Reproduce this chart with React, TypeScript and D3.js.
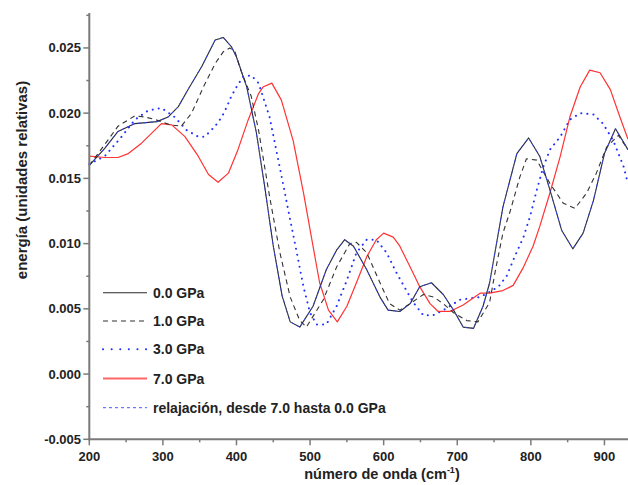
import React from "react";
import * as d3 from "d3";

const W = 628;
const H = 485;

// 0.0 GPa
const wn0 = [200, 221, 239, 262, 292, 307, 321, 334, 353, 371, 382, 393, 400, 414, 427, 438, 450, 462, 473, 486, 504, 522, 536, 547, 559, 577, 595, 606, 622, 636, 649, 665, 681, 695, 708, 722, 735, 744, 762, 781, 797, 812, 826, 842, 857, 871, 885, 900, 915, 932];
const en0 = [0.016, 0.0173, 0.0186, 0.0192, 0.01935, 0.0197, 0.0205, 0.0218, 0.0236, 0.0256, 0.0258, 0.0251, 0.0243, 0.022, 0.0185, 0.0145, 0.0098, 0.006, 0.004, 0.0036, 0.0052, 0.008, 0.0095, 0.0103, 0.0098, 0.008, 0.0059, 0.0049, 0.0048, 0.0054, 0.0067, 0.007, 0.0061, 0.0049, 0.0036, 0.0035, 0.0052, 0.007, 0.0128, 0.0169, 0.0181, 0.0167, 0.0141, 0.011, 0.0096, 0.0108, 0.0133, 0.0169, 0.0188, 0.0172];

// 1.0 GPa
const wn1 = [200, 221, 239, 262, 276, 290, 310, 325, 339, 355, 371, 382, 391, 398, 407, 420, 430, 445, 459, 473, 486, 495, 518, 536, 554, 563, 577, 595, 608, 622, 636, 654, 668, 681, 695, 713, 728, 744, 752, 762, 772, 785, 794, 808, 826, 844, 860, 876, 889, 903, 919, 932];
const en1 = [0.016, 0.0176, 0.019, 0.0198, 0.0197, 0.0195, 0.0191, 0.019, 0.02, 0.022, 0.0238, 0.0247, 0.025, 0.0247, 0.0231, 0.0213, 0.0187, 0.0136, 0.0093, 0.0059, 0.0041, 0.0036, 0.0057, 0.0082, 0.01, 0.0101, 0.0093, 0.007, 0.0054, 0.0049, 0.0054, 0.0061, 0.0059, 0.0054, 0.0047, 0.0041, 0.004, 0.0055, 0.008, 0.0108, 0.0125, 0.0151, 0.0165, 0.0164, 0.0146, 0.0131, 0.0127, 0.0139, 0.0154, 0.0174, 0.0183, 0.0172];

// 3.0 GPa
const wn3 = [200, 221, 244, 262, 280, 298, 316, 332, 348, 357, 371, 380, 387, 393, 400, 409, 420, 430, 445, 455, 464, 473, 482, 491, 500, 509, 522, 536, 550, 563, 577, 590, 604, 618, 631, 640, 654, 667, 681, 704, 717, 731, 744, 756, 767, 778, 790, 799, 808, 817, 826, 840, 853, 867, 885, 898, 912, 926, 932];
const en3 = [0.0161, 0.0167, 0.0182, 0.0195, 0.0202, 0.0204, 0.0197, 0.0187, 0.0182, 0.0182, 0.019, 0.0197, 0.0205, 0.0213, 0.022, 0.0228, 0.0229, 0.0223, 0.0197, 0.0169, 0.0144, 0.0118, 0.0093, 0.0067, 0.0047, 0.0038, 0.0038, 0.0052, 0.0072, 0.0093, 0.0103, 0.0103, 0.0093, 0.0077, 0.0064, 0.0055, 0.0045, 0.0045, 0.0049, 0.0057, 0.0058, 0.0059, 0.0063, 0.0067, 0.0075, 0.009, 0.0105, 0.0121, 0.0141, 0.0159, 0.0172, 0.0182, 0.0195, 0.02, 0.0199, 0.0192, 0.0179, 0.0159, 0.0146];

// 7.0 GPa
const wn7 = [200, 221, 239, 253, 271, 298, 312, 330, 348, 362, 375, 389, 402, 416, 430, 436, 448, 461, 477, 491, 504, 513, 525, 537, 550, 563, 577, 590, 600, 613, 622, 636, 649, 663, 674, 690, 708, 731, 744, 762, 776, 790, 803, 812, 826, 840, 853, 867, 880, 894, 908, 921, 932];
const en7 = [0.0167, 0.0166, 0.0166, 0.0169, 0.0177, 0.0192, 0.0191, 0.0182, 0.0167, 0.0153, 0.0147, 0.0154, 0.0172, 0.0195, 0.0215, 0.022, 0.0223, 0.021, 0.0179, 0.0139, 0.0098, 0.007, 0.0049, 0.004, 0.0052, 0.007, 0.009, 0.0103, 0.0108, 0.0105, 0.0098, 0.0082, 0.0067, 0.0054, 0.0048, 0.0048, 0.0053, 0.0062, 0.0062, 0.0064, 0.0068, 0.0082, 0.0098, 0.0113, 0.0139, 0.0167, 0.0197, 0.022, 0.0233, 0.0231, 0.0218, 0.0197, 0.018];

// relajación (overlaps 0.0 GPa)
const wnR = wn0;
const enR = [0.016, 0.0173, 0.0186, 0.0192, 0.01935, 0.0197, 0.0205, 0.0218, 0.0236, 0.0256, 0.0258, 0.0251, 0.0243, 0.022, 0.0185, 0.0145, 0.0098, 0.006, 0.004, 0.0036, 0.0052, 0.008, 0.0095, 0.0103, 0.0098, 0.008, 0.0059, 0.0049, 0.0048, 0.0054, 0.0067, 0.007, 0.0061, 0.0049, 0.0036, 0.0035, 0.0052, 0.007, 0.0128, 0.0169, 0.0181, 0.0167, 0.0141, 0.011, 0.0096, 0.0108, 0.0133, 0.0169, 0.0188, 0.0172];

const seriesLabels = ["0.0 GPa", "1.0 GPa", "3.0 GPa", "7.0 GPa", "relajación, desde 7.0 hasta 0.0 GPa"];
const xTicks = [200, 300, 400, 500, 600, 700, 800, 900];
const xMinor = [250, 350, 450, 550, 650, 750, 850];
const yTicks = [-0.005, 0, 0.005, 0.01, 0.015, 0.02, 0.025];
const yMinor = [-0.0025, 0.0025, 0.0075, 0.0125, 0.0175, 0.0225, 0.0275];

const FONT = "'Liberation Sans', Arial, sans-serif";

export default function App() {
  const x = d3.scaleLinear().domain([200, 932]).range([89.3, 628]);
  const y = d3.scaleLinear().domain([-0.005, 0.0276]).range([439.3, 14]);
  const x0 = x.range()[0];
  const y0 = y.range()[0];

  const mk = (wn: number[], en: number[]) =>
    d3.line<number>().x((_, i) => x(wn[i])).y((d) => y(d))(en) || "";

  const styles = [
    { stroke: "#2a2a2a", width: 1.1, dash: undefined as string | undefined, cap: "butt" },
    { stroke: "#333", width: 1.1, dash: "5,4", cap: "butt" },
    { stroke: "#2233ff", width: 2, dash: "0.1,6", cap: "round" },
    { stroke: "#ff3333", width: 1.2, dash: undefined, cap: "butt" },
    { stroke: "#3344ff", width: 0.9, dash: "3,3", cap: "butt" },
  ];
  const paths = [mk(wn3, en3), mk(wn7, en7), mk(wn1, en1), mk(wn0, en0), mk(wnR, enR)];
  const order = [2, 3, 1, 0, 4];

  const legendY = [292.7, 321, 349.3, 378.5, 407.7];
  const legendStyles = [
    { ...styles[0] },
    { ...styles[1] },
    { ...styles[2], dash: "0.1,8.5" },
    { ...styles[3], width: 2.2, stroke: "#ff6666" },
    { ...styles[4] },
  ];

  return (
    <svg width={W} height={H} style={{ position: "absolute", left: 0, top: 0, background: "#fff" }} fontFamily={FONT}>
      <rect width={W} height={H} fill="#fff" />
      {paths.map((p, k) => {
        const s = styles[order[k]];
        return (
          <path key={k} d={p} fill="none" stroke={s.stroke} strokeWidth={s.width}
            strokeDasharray={s.dash} strokeLinecap={s.cap as any} strokeLinejoin="round" />
        );
      })}
      {/* axes */}
      <line x1={x0} x2={x0} y1={13} y2={y0 + 1} stroke="#7a7a7a" strokeWidth={2} />
      <line x1={x0 - 1} x2={W} y1={y0} y2={y0} stroke="#7a7a7a" strokeWidth={2} />
      {yTicks.map((t) => (
        <g key={"y" + t}>
          <line x1={x0 - 6} x2={x0} y1={y(t)} y2={y(t)} stroke="#7a7a7a" strokeWidth={1.5} />
          <text x={81} y={y(t) + 4.5} textAnchor="end" fontSize={13} fontWeight="bold" fill="#222">
            {d3.format(".3f")(t).replace("−", "-")}
          </text>
        </g>
      ))}
      {yMinor.map((t) => (
        <line key={"ym" + t} x1={x0 - 3} x2={x0} y1={y(t)} y2={y(t)} stroke="#7a7a7a" strokeWidth={1.5} />
      ))}
      {xTicks.map((t) => (
        <g key={"x" + t}>
          <line x1={x(t)} x2={x(t)} y1={y0} y2={y0 + 6} stroke="#7a7a7a" strokeWidth={1.5} />
          <text x={x(t)} y={461} textAnchor="middle" fontSize={13} fontWeight="bold" fill="#222">
            {t}
          </text>
        </g>
      ))}
      {xMinor.map((t) => (
        <line key={"xm" + t} x1={x(t)} x2={x(t)} y1={y0} y2={y0 + 3} stroke="#7a7a7a" strokeWidth={1.5} />
      ))}
      {/* axis titles */}
      <text x={382} y={479} textAnchor="middle" fontSize={14.5} fontWeight="bold" fill="#222">
        número de onda (cm<tspan dy={-6} fontSize={9}>-1</tspan><tspan dy={6}>)</tspan>
      </text>
      <text transform={`translate(27,180) rotate(-90)`} textAnchor="middle" fontSize={15} fontWeight="bold" fill="#222">
        energía (unidades relativas)
      </text>
      {/* legend */}
      {seriesLabels.map((lab, i) => {
        const s = legendStyles[i];
        return (
          <g key={lab}>
            <line x1={103} x2={147} y1={legendY[i]} y2={legendY[i]} stroke={s.stroke} strokeWidth={s.width}
              strokeDasharray={s.dash} strokeLinecap={s.cap as any} />
            <text x={153} y={legendY[i] + 5} fontSize={14} fontWeight="bold" fill="#222">
              {lab}
            </text>
          </g>
        );
      })}
    </svg>
  );
}
